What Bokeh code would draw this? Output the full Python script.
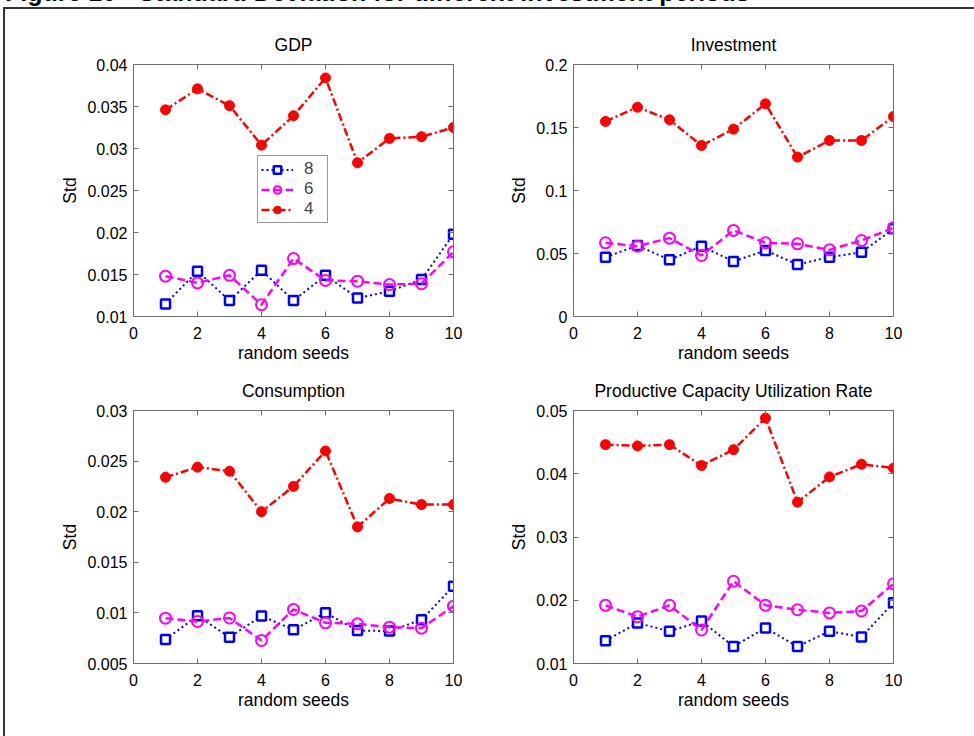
from bokeh.plotting import figure
from bokeh.layouts import column, row
from bokeh.models import (Range1d, LinearAxis, FixedTicker, CustomJSTickFormatter,
                          Legend, LegendItem, Div, Spacer)
from bokeh.embed import file_html
from bokeh.resources import INLINE

# ---- data -------------------------------------------------------------
seeds = [1, 2, 3, 4, 5, 6, 7, 8, 9, 10]
series_labels = ["8", "6", "4"]

gdp_8 = [0.0115, 0.0154, 0.0119, 0.0155, 0.0119, 0.0149, 0.0122, 0.0130, 0.0144, 0.0198]
gdp_6 = [0.0148, 0.0140, 0.0149, 0.0114, 0.0169, 0.0143, 0.0142, 0.0138, 0.0139, 0.0177]
gdp_4 = [0.0346, 0.0371, 0.0351, 0.0304, 0.0339, 0.0384, 0.0283, 0.0312, 0.0314, 0.0325]

inv_8 = [0.0471, 0.0563, 0.0450, 0.0558, 0.0437, 0.0524, 0.0413, 0.0471, 0.0510, 0.0696]
inv_6 = [0.0585, 0.0558, 0.0622, 0.0484, 0.0683, 0.0585, 0.0577, 0.0529, 0.0603, 0.0704]
inv_4 = [0.1548, 0.1661, 0.1561, 0.1357, 0.1487, 0.1688, 0.1265, 0.1397, 0.1397, 0.1587]

cons_8 = [0.00737, 0.00971, 0.00760, 0.00970, 0.00833, 0.01001, 0.00826, 0.00820, 0.00932, 0.01264]
cons_6 = [0.00948, 0.00915, 0.00950, 0.00727, 0.01034, 0.00902, 0.00892, 0.00859, 0.00849, 0.01066]
cons_4 = [0.0234, 0.0244, 0.0240, 0.0200, 0.0225, 0.0260, 0.0185, 0.0213, 0.0207, 0.0207]

pcu_8 = [0.0136, 0.0164, 0.0151, 0.0167, 0.0127, 0.0156, 0.0127, 0.0151, 0.0142, 0.0196]
pcu_6 = [0.0192, 0.0174, 0.0192, 0.0153, 0.0230, 0.0192, 0.0185, 0.0180, 0.0183, 0.0226]
pcu_4 = [0.0446, 0.0444, 0.0446, 0.0413, 0.0438, 0.0488, 0.0355, 0.0395, 0.0415, 0.0409]

x_ticks = [0, 2, 4, 6, 8, 10]
gdp_yticks = [0.01, 0.015, 0.02, 0.025, 0.03, 0.035, 0.04]
inv_yticks = [0, 0.05, 0.1, 0.15, 0.2]
cons_yticks = [0.005, 0.01, 0.015, 0.02, 0.025, 0.03]
pcu_yticks = [0.01, 0.02, 0.03, 0.04, 0.05]

figure_title = "Figure 10 - Standard Deviation for different investment periods"

# ---- styling ------------------------------------------------------------
FONT = "Liberation Sans"
AXIS_GRAY = "#6f6f6f"
BLUE, MAGENTA, RED = "#0000ff", "#ff00ff", "#ff0000"
TICK_SIZE = "16px"
LABEL_SIZE = "17.5px"

fmt_code = "return String(parseFloat(tick.toPrecision(6)));"


def style_axis(ax, ticks, show_labels, standoff=6):
    ax.ticker = FixedTicker(ticks=ticks)
    ax.formatter = CustomJSTickFormatter(code=fmt_code)
    ax.axis_line_color = AXIS_GRAY
    ax.axis_line_width = 1
    ax.major_tick_line_color = AXIS_GRAY
    ax.major_tick_in = 5
    ax.major_tick_out = 0
    ax.minor_tick_line_color = None
    ax.major_label_text_font = FONT
    if show_labels:
        ax.major_label_text_color = "black"
        ax.major_label_text_font_size = TICK_SIZE
        ax.major_label_standoff = standoff
    else:
        # tick marks only on the top / right edges of the box
        ax.major_label_text_color = None
        ax.major_label_text_font_size = "1px"
        ax.major_label_standoff = 0


def make_panel(title, s8, s6, s4, y_lo, y_hi, y_ticks, width, height,
               left, right, top, bottom, legend=False):
    p = figure(width=width, height=height,
               min_border_left=left, min_border_right=right,
               min_border_top=top, min_border_bottom=bottom,
               x_range=Range1d(0, 10), y_range=Range1d(y_lo, y_hi),
               output_backend="svg", toolbar_location=None, title=title)
    p.grid.visible = False
    p.outline_line_color = None
    p.background_fill_color = "white"
    p.border_fill_color = "white"

    p.title.align = "center"
    p.title.text_font = FONT
    p.title.text_font_size = LABEL_SIZE
    p.title.text_font_style = "normal"
    p.title.text_color = "black"
    p.title.standoff = 20

    style_axis(p.xaxis[0], x_ticks, True, standoff=10)
    style_axis(p.yaxis[0], y_ticks, True, standoff=6)
    p.xaxis.axis_label = "random seeds"
    p.yaxis.axis_label = "Std"
    for ax in (p.xaxis[0], p.yaxis[0]):
        ax.axis_label_text_font = FONT
        ax.axis_label_text_font_size = LABEL_SIZE
        ax.axis_label_text_font_style = "normal"
        ax.axis_label_text_color = "black"
    p.xaxis[0].axis_label_standoff = 1
    p.yaxis[0].axis_label_standoff = 4

    top_ax = LinearAxis()
    style_axis(top_ax, x_ticks, False)
    p.add_layout(top_ax, "above")
    right_ax = LinearAxis()
    style_axis(right_ax, y_ticks, False)
    p.add_layout(right_ax, "right")

    l8 = p.line(seeds, s8, line_color=BLUE, line_width=2, line_dash="2 3")
    m8 = p.scatter(seeds, s8, marker="square", size=9, line_color=BLUE,
                   fill_color="white", line_width=2.5)
    l6 = p.line(seeds, s6, line_color=MAGENTA, line_width=2.5, line_dash="8 4")
    m6 = p.scatter(seeds, s6, marker="circle", size=11, line_color=MAGENTA,
                   fill_color=None, line_width=2)
    l4 = p.line(seeds, s4, line_color=RED, line_width=2.5, line_dash="8 3 2 3")
    m4 = p.scatter(seeds, s4, marker="circle", size=10, line_color=RED,
                   fill_color=RED, line_width=1)

    if legend:
        items = [LegendItem(label=series_labels[0], renderers=[l8, m8]),
                 LegendItem(label=series_labels[1], renderers=[l6, m6]),
                 LegendItem(label=series_labels[2], renderers=[l4, m4])]
        lg = Legend(items=items, location=(124, 93), margin=0, padding=3,
                    spacing=0, glyph_width=32, glyph_height=19, label_standoff=11,
                    label_text_font=FONT, label_text_font_size="17px",
                    border_line_color="#333333", border_line_width=1,
                    background_fill_color="white", background_fill_alpha=1)
        p.add_layout(lg)
    return p


p_gdp = make_panel("GDP", gdp_8, gdp_6, gdp_4, 0.01, 0.04, gdp_yticks,
                   468, 357, 128, 20, 55, 50, legend=True)
p_inv = make_panel("Investment", inv_8, inv_6, inv_4, 0, 0.2, inv_yticks,
                   501, 357, 100, 81, 55, 50)
p_cons = make_panel("Consumption", cons_8, cons_6, cons_4, 0.005, 0.03, cons_yticks,
                    468, 370, 128, 20, 44, 73)
p_pcu = make_panel("Productive Capacity Utilization Rate", pcu_8, pcu_6, pcu_4,
                   0.01, 0.05, pcu_yticks, 501, 370, 100, 81, 44, 73)

panels = column(row(p_gdp, p_inv), row(p_cons, p_pcu))

# page heading (its top part runs off the page) and the frame around the panels
heading = Div(
    width=974, height=7, margin=0,
    text=('<div style="position:relative; top:-20px; left:5px; white-space:nowrap; '
          'font-family:\'Liberation Sans\',Arial,sans-serif; font-size:25px; '
          'font-weight:bold; line-height:25px; color:#000;">' + figure_title + '</div>'),
    styles={"overflow": "hidden"})
frame_top = Div(text="", width=971, height=2, margin=0,
                styles={"background-color": "#333333"})
frame_left = Div(text="", width=2, height=727, margin=0,
                 styles={"background-color": "#333333"})

page = column(heading,
              row(Spacer(width=3, height=2, margin=0), frame_top),
              row(Spacer(width=3, height=727, margin=0), frame_left, panels))

open("out.html", "w").write(file_html(page, INLINE))
